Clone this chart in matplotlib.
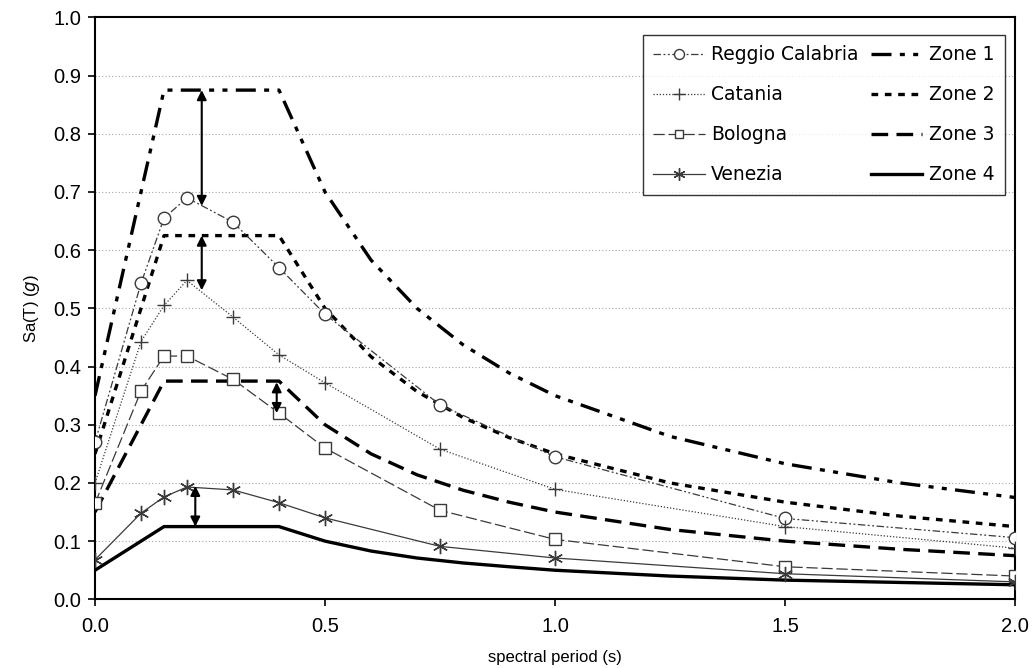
import matplotlib
matplotlib.use("Agg")
import matplotlib.pyplot as plt

# Site-specific uniform hazard spectra (periods in s, Sa in g)
site_periods = [0.0, 0.1, 0.15, 0.2, 0.3, 0.4, 0.5, 0.75, 1.0, 1.5, 2.0]
reggio = [0.27, 0.543, 0.655, 0.69, 0.648, 0.57, 0.49, 0.334, 0.245, 0.139, 0.106]
catania = [0.20, 0.443, 0.505, 0.548, 0.485, 0.42, 0.372, 0.258, 0.189, 0.125, 0.088]
bologna = [0.165, 0.358, 0.418, 0.418, 0.378, 0.32, 0.26, 0.153, 0.103, 0.056, 0.040]
venezia = [0.068, 0.148, 0.176, 0.193, 0.188, 0.166, 0.14, 0.091, 0.071, 0.044, 0.030]
site_names = ["Reggio Calabria", "Catania", "Bologna", "Venezia"]

# Code elastic spectra for seismic zones 1-4
zone_periods = [0.0, 0.15, 0.4, 0.5, 0.6, 0.7, 0.8, 0.9, 1.0, 1.25, 1.5, 1.75, 2.0]
zone1 = [0.35, 0.875, 0.875, 0.70, 0.583, 0.50, 0.4375, 0.389, 0.35, 0.28, 0.233, 0.20, 0.175]
zone2 = [0.25, 0.625, 0.625, 0.50, 0.417, 0.357, 0.3125, 0.278, 0.25, 0.20, 0.167, 0.143, 0.125]
zone3 = [0.15, 0.375, 0.375, 0.30, 0.25, 0.214, 0.1875, 0.167, 0.15, 0.12, 0.10, 0.086, 0.075]
zone4 = [0.05, 0.125, 0.125, 0.10, 0.083, 0.071, 0.0625, 0.056, 0.05, 0.04, 0.033, 0.029, 0.025]
zone_names = ["Zone 1", "Zone 2", "Zone 3", "Zone 4"]

# Double-headed arrows: (period, lower Sa, upper Sa)
gap_arrows = [
    (0.232, 0.676, 0.875),
    (0.232, 0.531, 0.625),
    (0.395, 0.320, 0.373),
    (0.218, 0.125, 0.195),
]

x_ticks = [0.0, 0.5, 1.0, 1.5, 2.0]
y_ticks = [0.0, 0.1, 0.2, 0.3, 0.4, 0.5, 0.6, 0.7, 0.8, 0.9, 1.0]

fig = plt.figure(figsize=(10.34, 6.68), dpi=100)
ax = fig.add_axes([0.0919, 0.1028, 0.8897, 0.8712])

site_color = "#3a3a3a"
site_styles = [
    dict(ls=(0, (6, 2, 1.5, 2, 1.5, 2)), marker="o", ms=9),
    dict(ls=(0, (1, 1.5)), marker="+", ms=10),
    dict(ls=(0, (9, 3)), marker="s", ms=8),
    dict(ls="-", marker=(6, 2, 0), ms=11),
]
site_data = [reggio, catania, bologna, venezia]

handles = []
for name, vals, st in zip(site_names, site_data, site_styles):
    h, = ax.plot(site_periods, vals, color=site_color, lw=0.9, ls=st["ls"],
                 marker=st["marker"], ms=st["ms"], mfc="white", mec=site_color,
                 mew=1.0, label=name, zorder=4)
    handles.append(h)

zone_styles = [
    (0, (6, 2.5, 1.5, 2.5, 1.5, 2.5)),
    (0, (2, 2)),
    (0, (5, 2.5)),
    "-",
]
zone_data = [zone1, zone2, zone3, zone4]
for name, vals, ls in zip(zone_names, zone_data, zone_styles):
    h, = ax.plot(zone_periods, vals, color="black", lw=2.4, ls=ls,
                 label=name, zorder=3)
    handles.append(h)

for x, lo, hi in gap_arrows:
    ax.annotate("", xy=(x, lo), xytext=(x, hi),
                arrowprops=dict(arrowstyle="<|-|>", color="black", lw=1.5,
                                mutation_scale=14, shrinkA=0, shrinkB=0),
                zorder=6)

ax.set_xlim(0, 2.0)
ax.set_ylim(0, 1.0)
ax.set_xticks(x_ticks)
ax.set_yticks(y_ticks)
ax.set_xticklabels([f"{v:.1f}" for v in x_ticks])
ax.set_yticklabels([f"{v:.1f}" for v in y_ticks])
ax.tick_params(direction="out", length=5, width=1.2, labelsize=14.5)
ax.tick_params(axis="x", pad=8)
ax.tick_params(axis="y", pad=5)
for lab in ax.get_xticklabels() + ax.get_yticklabels():
    lab.set_family("Liberation Sans")

for y in y_ticks[1:-1]:
    ax.axhline(y, color="#a8a8a8", lw=0.8, ls=(0, (1, 2)), zorder=1)

for sp in ax.spines.values():
    sp.set_linewidth(1.5)

ax.set_xlabel("spectral period (s)", family="Liberation Sans", fontsize=12, labelpad=10)
ax.set_ylabel("Sa(T) ($\\it{g}$)", family="Liberation Sans", fontsize=12, labelpad=8)

leg = ax.legend(handles=handles, ncol=2, loc="upper right",
                bbox_to_anchor=(0.989, 0.9696), borderaxespad=0,
                prop=dict(family="DejaVu Sans", size=13.5), frameon=True,
                fancybox=False, edgecolor="black", handlelength=2.75,
                handletextpad=0.35, columnspacing=0.65, labelspacing=1.12,
                borderpad=0.55, markerscale=0.8)
leg.get_frame().set_linewidth(1.0)
leg.set_zorder(10)

fig.savefig("out.png", dpi=100)
